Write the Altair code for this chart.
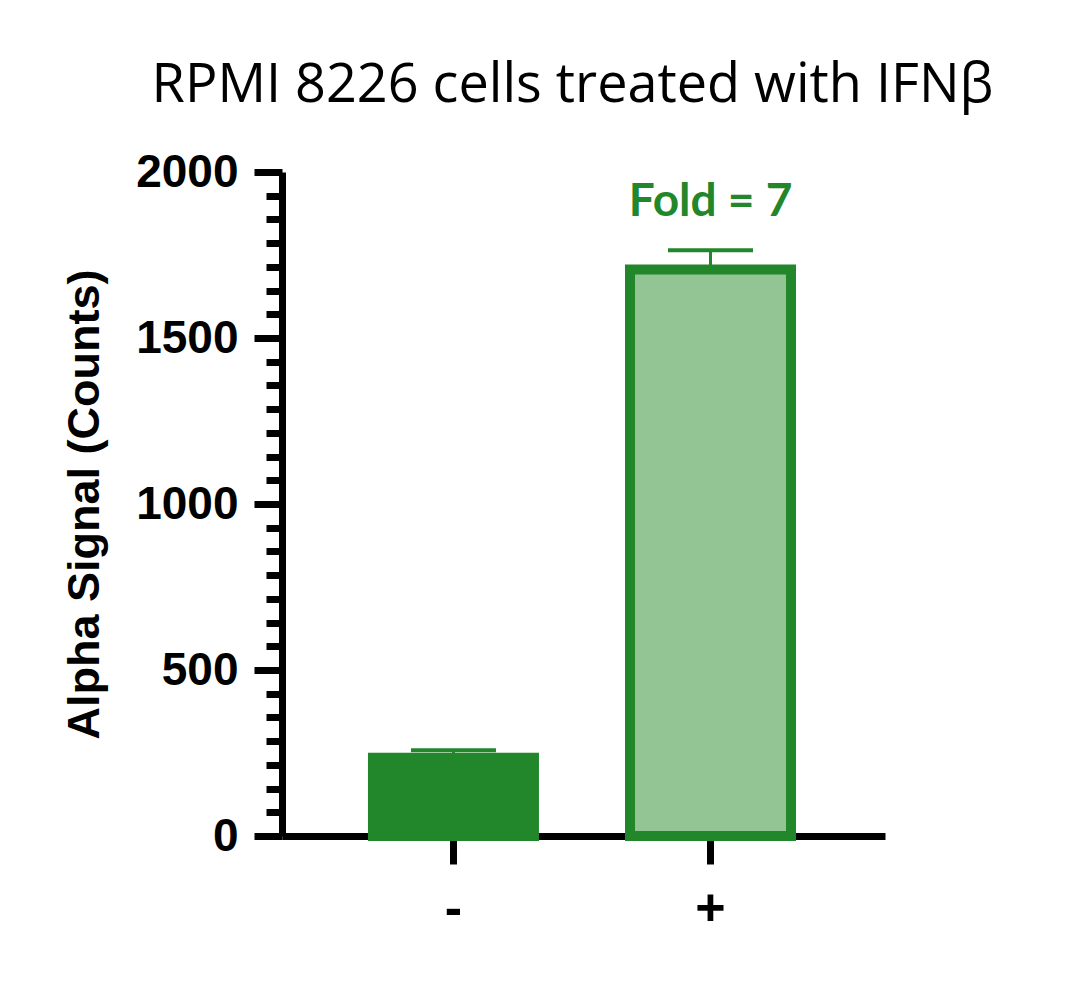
import altair as alt
import pandas as pd

# ---- data ----
conditions = ["-", "+"]
means = [236, 1706]
sds = [22, 58]
fold_labels = ["", "Fold = 7"]
fill_colors = ["#22862b", "#93c493"]

major_ticks = [0, 500, 1000, 1500, 2000]
minor_ticks = [round(k * 500 / 7, 4) for k in range(29) if k % 7 != 0]
tick_values = sorted(major_ticks + minor_ticks)

df = pd.DataFrame({
    "cond": conditions,
    "mean": means,
    "sd": sds,
    "top": [m + s for m, s in zip(means, sds)],
    "fold": fold_labels,
    "fill": fill_colors,
})

DARK = "#22862b"
W, H = 603, 664

x_enc = alt.X(
    "cond:N",
    sort=conditions,
    scale=alt.Scale(paddingInner=0, paddingOuter=0.173, align=0.483),
    axis=alt.Axis(
        title=None,
        labelAngle=0,
        labelFont="Liberation Sans",
        labelFontWeight="bold",
        labelFontSize=52,
        labelColor="black",
        labelPadding=19,
        tickSize=28,
        tickWidth=7,
        tickColor="black",
        domainWidth=7,
        domainColor="black",
    ),
)

y_scale = alt.Scale(domain=[0, 2000], nice=False, zero=True)
y_axis = alt.Axis(
    title="Alpha Signal (Counts)",
    titleFont="Liberation Sans",
    titleFontWeight="bold",
    titleFontSize=45,
    titleColor="black",
    titlePadding=28,
    values=tick_values,
    tickCount=200,
    format="d",
    labelExpr="datum.value % 500 === 0 ? datum.label : ''",
    labelOverlap=False,
    labelFont="Liberation Sans",
    labelFontWeight="bold",
    labelFontSize=46,
    labelColor="black",
    labelPadding=16,
    tickSize={"condition": {"test": "datum.value % 500 === 0", "value": 28}, "value": 16},
    tickWidth=7,
    tickColor="black",
    domainWidth=7,
    domainColor="black",
    grid=False,
)

base = alt.Chart(df)

bars = base.mark_bar(stroke=DARK, strokeWidth=10, size=161).encode(
    x=x_enc,
    y=alt.Y("mean:Q", scale=y_scale, axis=y_axis),
    fill=alt.Fill("fill:N", scale=None),
)

err_line = base.mark_rule(color=DARK, strokeWidth=3, opacity=1).encode(
    x=alt.X("cond:N", sort=conditions),
    y="mean:Q",
    y2="top:Q",
)

err_cap = base.mark_tick(color=DARK, thickness=4, size=85, orient="horizontal", opacity=1).encode(
    x=alt.X("cond:N", sort=conditions),
    y="top:Q",
)

fold_text = base.mark_text(
    color=DARK,
    font="Lato",
    fontWeight="bold",
    fontSize=46,
    baseline="alphabetic",
    dy=-34,
).encode(
    x=alt.X("cond:N", sort=conditions),
    y="top:Q",
    text="fold:N",
)

chart = (
    alt.layer(bars, err_line, err_cap, fold_text)
    .properties(
        width=W,
        height=H,
        background="white",
        title=alt.TitleParams(
            "RPMI 8226 cells treated with IFNβ",
            font="Open Sans",
            fontSize=54,
            fontWeight="normal",
            color="black",
            anchor="middle",
            dx=-11,
            offset=36,
        ),
        autosize=alt.AutoSizeParams(type="none"),
        padding={"left": 274, "top": 164, "right": 150, "bottom": 150},
    )
    .configure_view(strokeWidth=0, stroke="transparent")
)

chart.save("out.html", embed_options={"renderer": "svg", "actions": False})
